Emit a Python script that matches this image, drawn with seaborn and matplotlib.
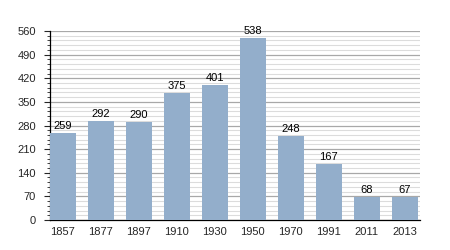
import matplotlib
matplotlib.use("Agg")
import matplotlib.pyplot as plt
import seaborn as sns
import pandas as pd
from matplotlib.ticker import MultipleLocator

years = ["1857", "1877", "1897", "1910", "1930", "1950", "1970", "1991", "2011", "2013"]
population = [259, 292, 290, 375, 401, 538, 248, 167, 68, 67]

df = pd.DataFrame({"year": years, "pop": population})

sns.set_style("white")
plt.rcParams['font.family'] = ['Liberation Sans', 'DejaVu Sans']

fig = plt.figure(figsize=(4.5, 2.5), dpi=100)
ax = fig.add_axes([0.111, 0.12, 0.822, 0.756])

sns.barplot(data=df, x="year", y="pop", color="#93aecb", saturation=1, width=0.684,
            linewidth=0, edgecolor="none", ax=ax, zorder=3)

ax.set_ylim(0, 560)
ax.set_xlim(-0.342, len(years) - 0.60)
ax.yaxis.set_major_locator(MultipleLocator(70))
ax.yaxis.set_minor_locator(MultipleLocator(14))
ax.grid(axis="y", which="major", color="#a8a8a8", linewidth=0.9, zorder=0)
ax.grid(axis="y", which="minor", color="#dcdcdc", linewidth=0.8, zorder=0)
ax.set_axisbelow(True)

for s in ["top", "right"]:
    ax.spines[s].set_visible(False)
ax.spines["left"].set_color("black")
ax.spines["bottom"].set_color("black")
ax.spines["left"].set_linewidth(0.9)
ax.spines["bottom"].set_linewidth(0.9)

ax.tick_params(axis="y", which="major", left=True, length=4, width=0.8, labelsize=8, pad=6)
ax.tick_params(axis="y", which="minor", left=True, length=2, width=0.6)
ax.tick_params(axis="x", bottom=False, labelsize=8, pad=1.5)
ax.set_xlabel("")
ax.set_ylabel("")

for i, v in enumerate(population):
    ax.text(i, v + 6, str(v), ha="center", va="bottom", fontsize=8, color="black", zorder=4)

fig.savefig("out.png", dpi=100)
